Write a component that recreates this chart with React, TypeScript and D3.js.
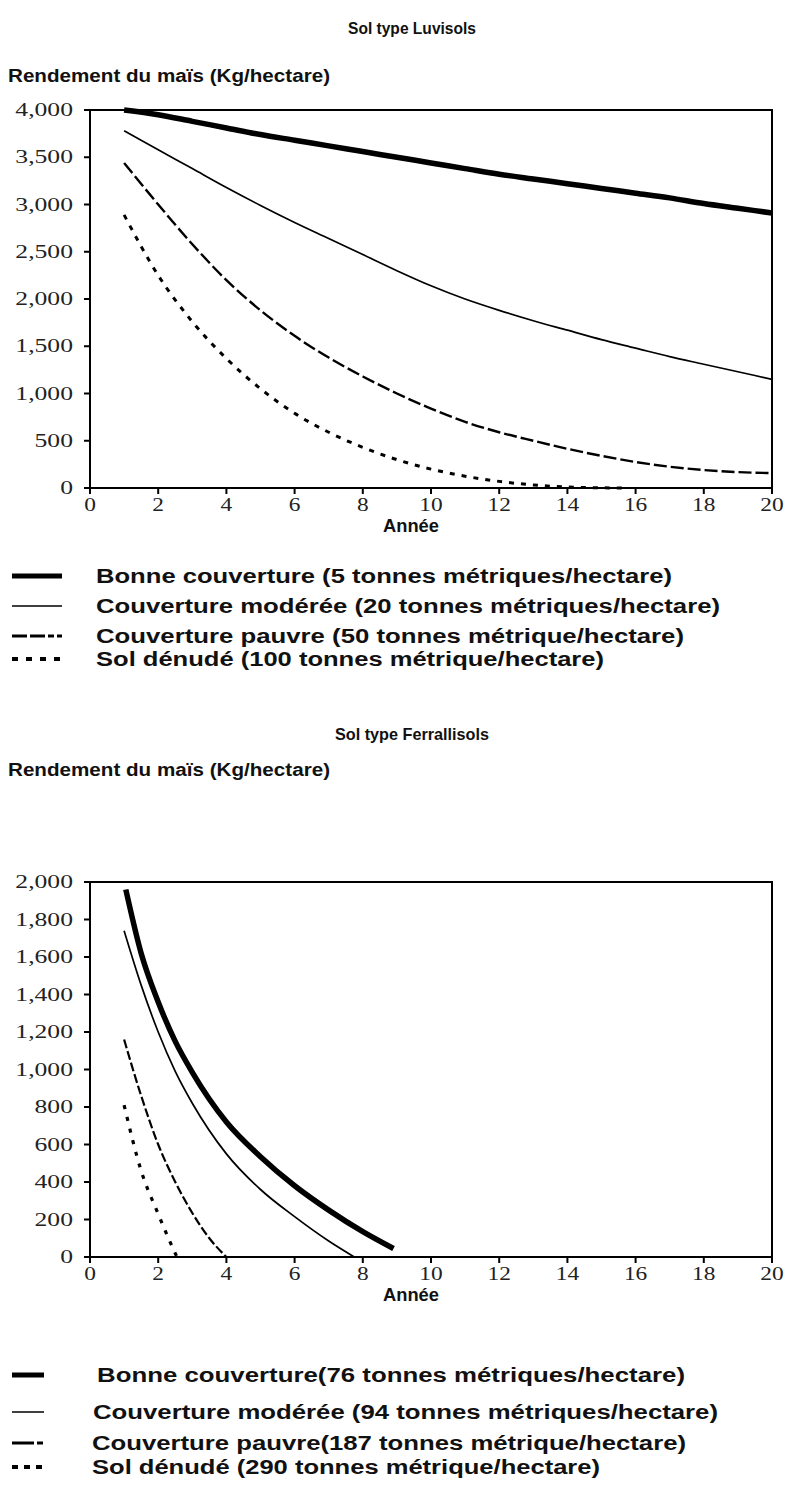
import React from "react";
import * as d3 from "d3";

// ---------- Data ----------
const years = [1,2,3,4,5,6,7,8,9,10,11,12,13,14,15,16,17,18,19,20];

const luvBonne = [4000,3950,3880,3810,3740,3680,3620,3560,3500,3440,3380,3320,3270,3220,3170,3120,3070,3010,2960,2910];
const luvModeree = [3780,3580,3380,3180,2990,2810,2640,2470,2300,2140,2000,1880,1770,1670,1570,1480,1390,1310,1230,1150];
const luvPauvre = [3440,3000,2580,2200,1880,1610,1380,1180,1000,840,700,590,500,415,340,275,225,190,168,158];
const luvDenudeYears = [1,2,3,4,5,6,7,8,9,10,11,12,13,14,15,15.6];
const luvDenude = [2890,2250,1760,1370,1050,790,590,430,300,200,125,70,32,10,2,0];

const ferBonneYears = [1.05,1.5,2,2.5,3,4,5,6,7,8,8.9];
const ferBonne = [1960,1620,1360,1150,985,720,535,380,250,135,45];
const ferModereeYears = [1,1.5,2,2.5,3,4,5,6,7,7.75];
const ferModeree = [1740,1450,1200,990,820,550,360,215,85,0];
const ferPauvreYears = [1,1.5,2,2.5,3,3.5,4];
const ferPauvre = [1160,860,600,400,235,100,0];
const ferDenudeYears = [1,1.5,2,2.3,2.55];
const ferDenude = [810,460,230,100,0];

const xTicks = [0,2,4,6,8,10,12,14,16,18,20];
const luvYTicks = [0,500,1000,1500,2000,2500,3000,3500,4000];
const ferYTicks = [0,200,400,600,800,1000,1200,1400,1600,1800,2000];

const luvLegend = [
  "Bonne couverture (5 tonnes métriques/hectare)",
  "Couverture modérée (20 tonnes métriques/hectare)",
  "Couverture pauvre (50 tonnes métrique/hectare)",
  "Sol dénudé (100 tonnes métrique/hectare)",
];
const ferLegend = [
  "Bonne couverture(76 tonnes métriques/hectare)",
  "Couverture modérée (94 tonnes métriques/hectare)",
  "Couverture pauvre(187 tonnes métrique/hectare)",
  "Sol dénudé (290 tonnes métrique/hectare)",
];

const W = 785;
const H = 1488;
const sans = "'Liberation Sans', Arial, sans-serif";
const serif = "'Liberation Serif', 'Times New Roman', serif";

type Style = { w: number; dash?: string };

const luvStyles: Style[] = [
  { w: 5.5 },
  { w: 1.7 },
  { w: 2.4, dash: "13,4" },
  { w: 3, dash: "5,7" },
];
const ferStyles: Style[] = [
  { w: 5.5 },
  { w: 1.7 },
  { w: 2.2, dash: "9,3" },
  { w: 3.2, dash: "4,8" },
];

type Layout = {
  titleY: number;
  titleW: number;
  ylabY: number;
  yTop: number;
  yBot: number;
  tickY: number;
  anneeY: number;
};

function Panel(props: {
  lay: Layout;
  title: string;
  yMax: number;
  yTicks: number[];
  series: { xs: number[]; ys: number[] }[];
  styles: Style[];
  legend: string[];
  legendY: number[];
  legendSymW: number;
  legendTextX: number[];
  legendTextW: number[];
  legendSym: Style[];
}) {
  const { lay, title, yMax, yTicks, series, styles, legend, legendY, legendSymW, legendTextX, legendTextW, legendSym } = props;
  const x0 = 90, x1 = 772;
  const { yTop, yBot } = lay;
  const x = d3.scaleLinear().domain([0, 20]).range([x0, x1]);
  const y = d3.scaleLinear().domain([0, yMax]).range([yBot, yTop]);
  const fmt = d3.format(",");
  const line = d3
    .line<[number, number]>()
    .x((d) => x(d[0]))
    .y((d) => y(d[1]))
    .curve(d3.curveMonotoneX);

  return (
    <g>
      <text x={412} y={lay.titleY} textAnchor="middle" fontFamily={sans} fontWeight="bold" fontSize={17} fill="#111"
        textLength={lay.titleW} lengthAdjust="spacingAndGlyphs">
        {title}
      </text>
      <text x={8} y={lay.ylabY} fontFamily={sans} fontWeight="bold" fontSize={18} fill="#111"
        textLength={322} lengthAdjust="spacingAndGlyphs">
        Rendement du maïs (Kg/hectare)
      </text>
      {series.map((s, i) => (
        <path
          key={i}
          d={line(s.xs.map((v, j) => [v, s.ys[j]] as [number, number])) || ""}
          fill="none"
          stroke="#000"
          strokeWidth={styles[i].w}
          strokeDasharray={styles[i].dash}
        />
      ))}
      <rect x={x0} y={yTop} width={x1 - x0} height={yBot - yTop} fill="none" stroke="#000" strokeWidth={2} />
      {yTicks.map((t) => (
        <g key={t}>
          <line x1={x0 - 6} x2={x0} y1={y(t)} y2={y(t)} stroke="#000" strokeWidth={2} />
          <text transform={`translate(73,${y(t) + 6}) scale(1.35,1)`} textAnchor="end" fontFamily={serif} fontSize={19} fill="#222">
            {fmt(t)}
          </text>
        </g>
      ))}
      {xTicks.map((t) => (
        <g key={t}>
          <line x1={x(t)} x2={x(t)} y1={yBot} y2={yBot + 6} stroke="#000" strokeWidth={2} />
          <text transform={`translate(${x(t)},${lay.tickY}) scale(1.3,1)`} textAnchor="middle" fontFamily={serif} fontSize={18} fill="#222">
            {t}
          </text>
        </g>
      ))}
      <text x={411} y={lay.anneeY} textAnchor="middle" fontFamily={sans} fontWeight="bold" fontSize={18} fill="#111"
        textLength={56} lengthAdjust="spacingAndGlyphs">
        Année
      </text>
      {legend.map((l, i) => (
        <g key={l}>
          <line
            x1={12}
            x2={12 + legendSymW}
            y1={legendY[i]}
            y2={legendY[i]}
            stroke="#000"
            strokeWidth={legendSym[i].w}
            strokeDasharray={legendSym[i].dash}
          />
          <text x={legendTextX[i]} y={legendY[i] + 7} fontFamily={sans} fontWeight="bold" fontSize={20} fill="#111"
            textLength={legendTextW[i]} lengthAdjust="spacingAndGlyphs">
            {l}
          </text>
        </g>
      ))}
    </g>
  );
}

export default function App() {
  return (
    <svg width={W} height={H} style={{ position: "absolute", left: 0, top: 0, background: "#fff" }}>
      <rect x={0} y={0} width={W} height={H} fill="#fff" />
      <Panel
        lay={{ titleY: 34, titleW: 128, ylabY: 82, yTop: 110, yBot: 488, tickY: 511, anneeY: 532 }}
        title="Sol type Luvisols"
        yMax={4000}
        yTicks={luvYTicks}
        series={[
          { xs: years, ys: luvBonne },
          { xs: years, ys: luvModeree },
          { xs: years, ys: luvPauvre },
          { xs: luvDenudeYears, ys: luvDenude },
        ]}
        styles={luvStyles}
        legend={luvLegend}
        legendY={[576, 606, 636, 659]}
        legendSymW={50}
        legendTextX={[96, 96, 96, 96]}
        legendTextW={[576, 624, 588, 508]}
        legendSym={[{ w: 5 }, { w: 1.5 }, { w: 3, dash: "15,3,15,3,6,3" }, { w: 4, dash: "6,8" }]}
      />
      <Panel
        lay={{ titleY: 740, titleW: 154, ylabY: 776, yTop: 882, yBot: 1257, tickY: 1280, anneeY: 1301 }}
        title="Sol type Ferrallisols"
        yMax={2000}
        yTicks={ferYTicks}
        series={[
          { xs: ferBonneYears, ys: ferBonne },
          { xs: ferModereeYears, ys: ferModeree },
          { xs: ferPauvreYears, ys: ferPauvre },
          { xs: ferDenudeYears, ys: ferDenude },
        ]}
        styles={ferStyles}
        legend={ferLegend}
        legendY={[1375, 1412, 1443, 1467]}
        legendSymW={32}
        legendTextX={[97, 93, 92, 92]}
        legendTextW={[588, 625, 594, 508]}
        legendSym={[{ w: 5 }, { w: 1.5 }, { w: 3, dash: "22,3,6,3" }, { w: 4, dash: "6,6" }]}
      />
    </svg>
  );
}
